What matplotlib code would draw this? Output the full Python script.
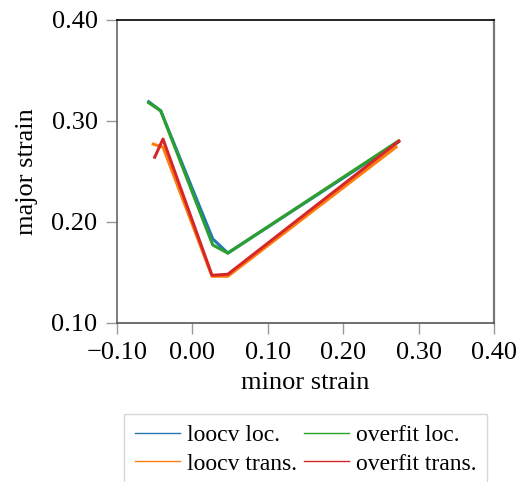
import matplotlib
matplotlib.use("Agg")
from matplotlib import pyplot as plt

plt.rcParams['font.family'] = ['Liberation Serif', 'DejaVu Serif']
plt.rcParams['font.size'] = 19

# loocv localised
loocv_loc_x = [-0.058, -0.042, 0.027, 0.047, 0.273]
loocv_loc_y = [0.319, 0.310, 0.183, 0.169, 0.279]
# overfit localised
overfit_loc_x = [-0.058, -0.042, 0.027, 0.047, 0.273]
overfit_loc_y = [0.318, 0.310, 0.177, 0.169, 0.280]
# loocv transferred
loocv_trans_x = [-0.052, -0.039, 0.026, 0.047, 0.270]
loocv_trans_y = [0.277, 0.274, 0.146, 0.146, 0.274]
# overfit transferred
overfit_trans_x = [-0.050, -0.039, 0.026, 0.047, 0.274]
overfit_trans_y = [0.264, 0.282, 0.147, 0.148, 0.280]

labels = ['loocv loc.', 'overfit loc.', 'loocv trans.', 'overfit trans.']
colors = ['#1f77b4', '#2ca02c', '#ff7f0e', '#d62728']

xticks = [-0.10, 0.00, 0.10, 0.20, 0.30, 0.40]
yticks = [0.10, 0.20, 0.30, 0.40]

fig = plt.figure(figsize=(5.16, 4.82), dpi=100)
ax = fig.add_axes([117 / 516, 1 - 322.7 / 482, (494 - 117) / 516, (322.7 - 20) / 482])

series = [(loocv_loc_x, loocv_loc_y), (overfit_loc_x, overfit_loc_y),
          (loocv_trans_x, loocv_trans_y), (overfit_trans_x, overfit_trans_y)]
handles = []
for (xs, ys), c, lab in zip(series, colors, labels):
    h, = ax.plot(xs, ys, color=c, lw=2.2, label=lab)
    handles.append(h)

ax.set_xlim(-0.10, 0.40)
ax.set_ylim(0.10, 0.40)
ax.set_xticks(xticks)
ax.set_yticks(yticks)
ax.set_xticklabels(['\u22120.10' if v < 0 else f'{v:.2f}' for v in xticks])
ax.set_yticklabels([f'{v:.2f}' for v in yticks])
ax.tick_params(direction='out', length=8, width=1, color='#999999', pad=6, labelsize=19)
ax.spines['top'].set_color('black')
ax.spines['left'].set_color('#666666')
ax.spines['bottom'].set_color('#555555')
ax.spines['right'].set_color('#777777')
for s in ax.spines.values():
    s.set_linewidth(1.2)
ax.spines['right'].set_linewidth(1.6)
ax.set_xlabel('minor strain', fontsize=19, labelpad=6)
ax.set_ylabel('major strain', fontsize=19, labelpad=10)

order = [0, 2, 1, 3]
leg = fig.legend([handles[i] for i in order], [labels[i] for i in order], ncol=2,
                 loc='upper center', bbox_to_anchor=(305.5 / 516, 1 - 414 / 482),
                 borderaxespad=0,
                 frameon=True, fancybox=False, edgecolor='#cccccc',
                 handlelength=1.9, columnspacing=0.3, handletextpad=0.3,
                 borderpad=0.45, labelspacing=0.3, fontsize=17)
for line in leg.get_lines():
    line.set_linewidth(1.0)

fig.savefig('out.png', dpi=100)
